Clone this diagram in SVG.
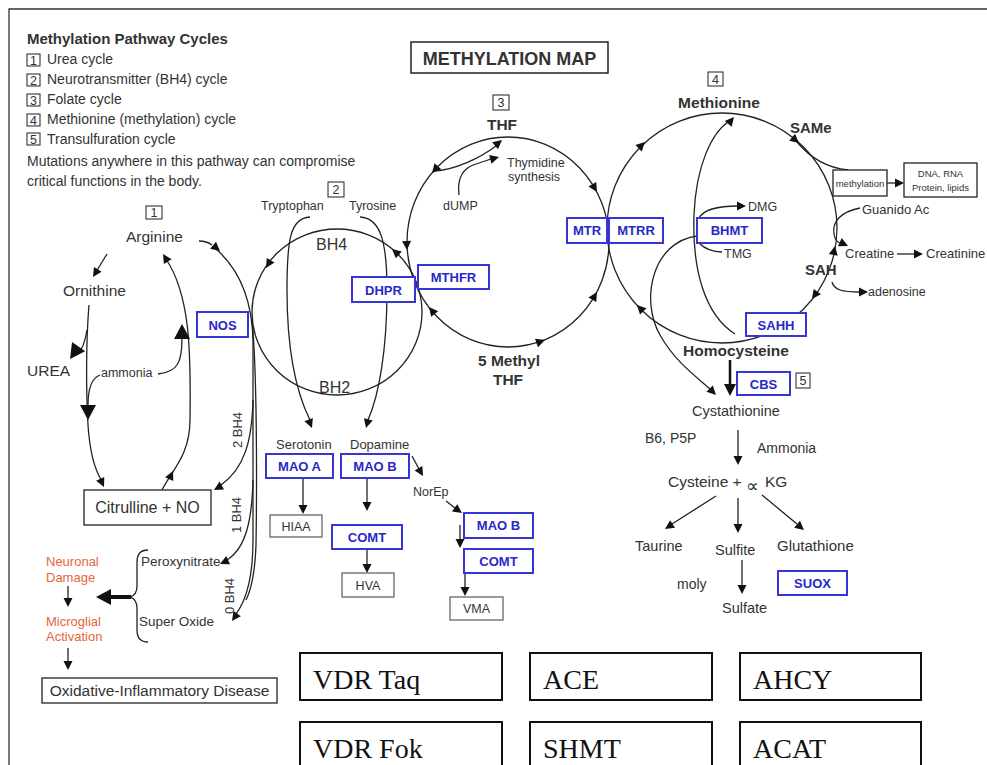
<svg xmlns="http://www.w3.org/2000/svg" width="987" height="765" viewBox="0 0 987 765">
<defs>
<style>
.t{font-family:"Liberation Sans",Arial,sans-serif;fill:#333}
.b{font-weight:bold}
.m{text-anchor:middle}
.ln{fill:none;stroke:#222;stroke-width:1.3}
.bx{fill:#fff;stroke:#222;stroke-width:1.3}
.gb{fill:#fff;stroke:#666;stroke-width:1.3}
.eb{fill:#fff;stroke:#3636d6;stroke-width:2}
.et{font-family:"Liberation Sans",Arial,sans-serif;font-weight:bold;font-size:13px;fill:#2828c8;text-anchor:middle}
.nb{fill:#fff;stroke:#333;stroke-width:1.1}
.nt{font-family:"Liberation Sans",Arial,sans-serif;font-size:12.5px;fill:#333;text-anchor:middle}
.or{font-family:"Liberation Sans",Arial,sans-serif;font-size:13px;fill:#e8643c}
.sb{fill:#fff;stroke:#111;stroke-width:2}
.st{font-family:"Liberation Serif","Times New Roman",serif;font-size:28px;fill:#111}
.ah{fill:#111}
</style>
<path id="a" d="M0,0 L-9,-4.5 L-9,4.5 Z"/>
<path id="A" d="M0,0 L-15,-8 L-15,8 Z"/>
</defs>
<rect width="987" height="765" fill="#fff"/>
<path d="M9,765 L9,9 L987,9" fill="none" stroke="#333" stroke-width="1.3"/>

<g id="legend">
<text class="t b" x="27" y="44" font-size="15">Methylation Pathway Cycles</text>
<rect class="nb" x="27" y="54" width="13" height="12"/><text class="nt" x="33.5" y="64.5">1</text>
<text class="t" x="47" y="64" font-size="14">Urea cycle</text>
<rect class="nb" x="27" y="74" width="13" height="12"/><text class="nt" x="33.5" y="84.5">2</text>
<text class="t" x="47" y="84" font-size="14">Neurotransmitter (BH4) cycle</text>
<rect class="nb" x="27" y="94" width="13" height="12"/><text class="nt" x="33.5" y="104.5">3</text>
<text class="t" x="47" y="104" font-size="14">Folate cycle</text>
<rect class="nb" x="27" y="114" width="13" height="12"/><text class="nt" x="33.5" y="124.5">4</text>
<text class="t" x="47" y="124" font-size="14">Methionine (methylation) cycle</text>
<rect class="nb" x="27" y="133" width="13" height="12"/><text class="nt" x="33.5" y="143.5">5</text>
<text class="t" x="47" y="144" font-size="14">Transulfuration cycle</text>
<text class="t" x="27" y="166" font-size="14">Mutations anywhere in this pathway can compromise</text>
<text class="t" x="27" y="186" font-size="14">critical functions in the body.</text>
</g>

<g id="title">
<rect x="411" y="42" width="197" height="31" fill="#fff" stroke="#222" stroke-width="1.5"/>
<text class="t b m" x="509.5" y="65" font-size="18" fill="#222">METHYLATION MAP</text>
</g>

<g id="connectors">
<ellipse class="ln" cx="337" cy="312" rx="85" ry="83"/>
<ellipse class="ln" cx="508" cy="242" rx="101" ry="105"/>
<circle class="ln" cx="722" cy="228" r="115"/>
<path class="ln" d="M107,254 L96,272"/>
<path class="ln" d="M89,305 C86,340 86,390 88,425 C90,455 96,472 102,481"/>
<path class="ln" d="M87,330 C85,342 82,350 78,354"/>
<path class="ln" d="M182,338 C182,362 178,372 158,374"/>
<path class="ln" d="M100,375 C92,378 88,388 88,405"/>
<path class="ln" d="M162,490 C172,470 190,455 190,420 C191,350 190,295 166,259"/>
<path class="ln" d="M199,241 C204,241 208,242 212,245"/>
<path class="ln" d="M216,249 C240,270 252,300 253,340 L253,540 C253,575 248,598 236,614"/>
<path class="ln" d="M252,320 C257,370 257,480 256,545 C255,572 251,590 246,600"/>
<path class="ln" d="M253,400 C252,440 245,468 221,485"/>
<path class="ln" d="M253,480 C252,520 246,548 227,560"/>
<path class="ln" d="M310,217 C290,218 287,240 287,290 C287,350 295,390 310,420"/>
<path class="ln" d="M360,217 C380,218 387,240 387,290 C387,350 379,395 368,420"/>
<path class="ln" d="M303,478 L303,506"/>
<path class="ln" d="M367,478 L367,503"/>
<path class="ln" d="M367,549 L367,565"/>
<path class="ln" d="M412,456 L419,469"/>
<path class="ln" d="M446,501 L455,508"/>
<path class="ln" d="M460,525 L460,540"/>
<path class="ln" d="M465,573 L465,588"/>
<path class="ln" d="M434,171 C455,170 480,158 496,146"/>
<path class="ln" d="M459,195 C457,178 462,168 476,164 L491,159"/>
<path class="ln" d="M797,142 C812,160 828,168 848,170"/>
<path class="ln" d="M887,183 L896,183"/>
<path class="ln" d="M860,208 C840,212 832,222 834,234 C835,240 837,242 840,243"/>
<path class="ln" d="M897,254 L915,254"/>
<path class="ln" d="M832,282 C834,290 842,292 860,292"/>
<path class="ln" d="M735,334 C705,315 692,270 694,215 C696,165 712,133 728,122"/>
<path class="ln" d="M697,236 C652,242 640,300 660,335 C675,362 698,378 710,389"/>
<path class="ln" d="M699,218 C704,209 718,206 738,206"/>
<path class="ln" d="M699,243 C706,250 713,252 722,252"/>
<path d="M730,360 L730,386" fill="none" stroke="#111" stroke-width="2.5"/>
<path class="ln" d="M738,430 L738,456"/>
<path class="ln" d="M716,496 L672,524"/>
<path class="ln" d="M738,498 L738,524"/>
<path class="ln" d="M762,495 L797,524"/>
<path class="ln" d="M742,560 L742,585"/>
<path class="ln" d="M148,550 Q137,550 137,562 L137,586 Q137,595 130,597 Q137,599 137,608 L137,630 Q137,642 148,642"/>
<path d="M131,597 L110,597" stroke="#111" stroke-width="4"/>
<path class="ln" d="M68,586 L68,599"/>
<path class="ln" d="M68,648 L68,662"/>

<use class="ah" href="#a" transform="translate(93,277) rotate(122)"/>
<use class="ah" href="#a" transform="translate(104,487) rotate(65)"/>
<use class="ah" href="#A" transform="translate(70,359) rotate(125)"/>
<use class="ah" href="#A" transform="translate(88,420) rotate(90)"/>
<use class="ah" href="#A" transform="translate(182,324) rotate(-90)"/>
<use class="ah" href="#a" transform="translate(163,254) rotate(-122)"/>
<use class="ah" href="#a" transform="translate(173,471) rotate(-65)"/>
<use class="ah" href="#a" transform="translate(220,251) rotate(40)"/>
<use class="ah" href="#a" transform="translate(214,490) rotate(150)"/>
<use class="ah" href="#a" transform="translate(220,564) rotate(155)"/>
<use class="ah" href="#a" transform="translate(232,621) rotate(125)"/>
<use class="ah" href="#a" transform="translate(266,268) rotate(121)"/>
<use class="ah" href="#a" transform="translate(392,249) rotate(-139)"/>
<use class="ah" href="#a" transform="translate(312,428) rotate(68)"/>
<use class="ah" href="#a" transform="translate(366,428) rotate(105)"/>
<use class="ah" href="#a" transform="translate(303,514) rotate(90)"/>
<use class="ah" href="#a" transform="translate(367,511) rotate(90)"/>
<use class="ah" href="#a" transform="translate(367,573) rotate(90)"/>
<use class="ah" href="#a" transform="translate(423,476) rotate(60)"/>
<use class="ah" href="#a" transform="translate(462,513) rotate(35)"/>
<use class="ah" href="#a" transform="translate(460,548) rotate(90)"/>
<use class="ah" href="#a" transform="translate(465,596) rotate(90)"/>
<use class="ah" href="#a" transform="translate(432,173) rotate(131)"/>
<use class="ah" href="#a" transform="translate(407,250) rotate(87)"/>
<use class="ah" href="#a" transform="translate(429,307) rotate(231)"/>
<use class="ah" href="#a" transform="translate(545,340) rotate(-19)"/>
<use class="ah" href="#a" transform="translate(597,292) rotate(-59)"/>
<use class="ah" href="#a" transform="translate(597,192) rotate(59)"/>
<use class="ah" href="#a" transform="translate(502,140) rotate(-40)"/>
<use class="ah" href="#a" transform="translate(499,157) rotate(-15)"/>
<use class="ah" href="#a" transform="translate(645,142) rotate(-44)"/>
<use class="ah" href="#a" transform="translate(799,143) rotate(40)"/>
<use class="ah" href="#a" transform="translate(835,246) rotate(-79)"/>
<use class="ah" href="#a" transform="translate(812,299) rotate(126)"/>
<use class="ah" href="#a" transform="translate(637,305) rotate(226)"/>
<use class="ah" href="#a" transform="translate(904,183) rotate(0)"/>
<use class="ah" href="#a" transform="translate(848,246) rotate(25)"/>
<use class="ah" href="#a" transform="translate(923,254) rotate(0)"/>
<use class="ah" href="#a" transform="translate(868,292) rotate(0)"/>
<use class="ah" href="#a" transform="translate(734,117) rotate(-50)"/>
<use class="ah" href="#a" transform="translate(716,395) rotate(45)"/>
<use class="ah" href="#a" transform="translate(746,206) rotate(0)"/>
<path class="ah" d="M730,396 L724,384 L736,384 Z"/>
<use class="ah" href="#a" transform="translate(738,465) rotate(90)"/>
<use class="ah" href="#a" transform="translate(665,529) rotate(147)"/>
<use class="ah" href="#a" transform="translate(738,533) rotate(90)"/>
<use class="ah" href="#a" transform="translate(804,530) rotate(40)"/>
<use class="ah" href="#a" transform="translate(742,594) rotate(90)"/>
<use class="ah" href="#A" transform="translate(96,597) rotate(180)"/>
<use class="ah" href="#a" transform="translate(68,607) rotate(90)"/>
<use class="ah" href="#a" transform="translate(68,670) rotate(90)"/>
</g>

<g id="urea-cycle">
<rect class="nb" x="146" y="206" width="16" height="13"/><text class="nt" x="154" y="217">1</text>
<text class="t" x="126" y="242" font-size="15.5">Arginine</text>
<text class="t" x="63" y="296" font-size="15.5">Ornithine</text>
<text class="t" x="27" y="376" font-size="15.5">UREA</text>
<text class="t" x="101" y="377" font-size="12.5">ammonia</text>
<g id="citrulline"><rect class="bx" x="84" y="490" width="127" height="35"/><text class="t m" x="147.5" y="513" font-size="16">Citrulline + NO</text></g>
<g id="nos"><rect class="eb" x="197" y="312" width="51" height="25"/><text class="et" x="222.5" y="329.5">NOS</text></g>
<text class="t m" transform="translate(242,430) rotate(-90)" font-size="13">2 BH4</text>
<text class="t m" transform="translate(241,515) rotate(-90)" font-size="13">1 BH4</text>
<text class="t m" transform="translate(234,596) rotate(-90)" font-size="13">0 BH4</text>
</g>

<g id="damage">
<text class="t" x="141" y="566" font-size="13.5">Peroxynitrate</text>
<text class="t" x="139" y="626" font-size="13.5">Super Oxide</text>
<text class="or" x="46" y="566">Neuronal</text>
<text class="or" x="46" y="582">Damage</text>
<text class="or" x="46" y="626">Microglial</text>
<text class="or" x="46" y="641">Activation</text>
<g id="oxidative"><rect class="bx" x="42" y="678" width="235" height="25"/><text class="t m" x="159.5" y="696" font-size="15.5">Oxidative-Inflammatory Disease</text></g>
</g>

<g id="bh4-cycle">
<rect class="nb" x="328" y="182" width="16" height="15"/><text class="nt" x="336" y="194">2</text>
<text class="t" x="261" y="210" font-size="12.5">Tryptophan</text>
<text class="t" x="349" y="210" font-size="12.5">Tyrosine</text>
<text class="t" x="316" y="250" font-size="16">BH4</text>
<text class="t" x="319" y="393" font-size="16">BH2</text>
<g id="dhpr"><rect class="eb" x="352" y="277" width="63" height="25"/><text class="et" x="383.5" y="294.5">DHPR</text></g>
<g id="mthfr"><rect class="eb" x="418" y="265" width="71" height="24"/><text class="et" x="453.5" y="282">MTHFR</text></g>
<text class="t" x="276" y="449" font-size="13">Serotonin</text>
<text class="t" x="350" y="449" font-size="13">Dopamine</text>
<g id="maoa"><rect class="eb" x="266" y="454" width="67" height="24"/><text class="et" x="299.5" y="471">MAO A</text></g>
<g id="maob1"><rect class="eb" x="341" y="454" width="68" height="24"/><text class="et" x="375" y="471">MAO B</text></g>
<g id="hiaa"><rect class="gb" x="270" y="515" width="52" height="22"/><text class="t m" x="296" y="531" font-size="12.5">HIAA</text></g>
<g id="comt1"><rect class="eb" x="332" y="525" width="70" height="24"/><text class="et" x="367" y="542">COMT</text></g>
<g id="hva"><rect class="gb" x="342" y="573" width="52" height="24"/><text class="t m" x="368" y="590" font-size="12.5">HVA</text></g>
<text class="t" x="413" y="496" font-size="12.5">NorEp</text>
<g id="maob2"><rect class="eb" x="464" y="513" width="69" height="25"/><text class="et" x="498.5" y="530">MAO B</text></g>
<g id="comt2"><rect class="eb" x="464" y="549" width="69" height="24"/><text class="et" x="498.5" y="566">COMT</text></g>
<g id="vma"><rect class="gb" x="450" y="597" width="53" height="23"/><text class="t m" x="476.5" y="613" font-size="12.5">VMA</text></g>
</g>

<g id="folate-cycle">
<rect class="nb" x="493" y="95" width="16" height="15"/><text class="nt" x="501" y="107">3</text>
<text class="t b m" x="502" y="130" font-size="15.5">THF</text>
<text class="t" x="507" y="167" font-size="12.5">Thymidine</text>
<text class="t" x="508" y="181" font-size="12.5">synthesis</text>
<text class="t" x="443" y="210" font-size="12.5">dUMP</text>
<text class="t b m" x="509" y="366" font-size="15.5">5 Methyl</text>
<text class="t b m" x="508" y="385" font-size="15.5">THF</text>
<g id="mtr"><rect class="eb" x="567" y="218" width="40" height="25"/><text class="et" x="587" y="235">MTR</text></g>
<g id="mtrr"><rect class="eb" x="609" y="218" width="54" height="25"/><text class="et" x="636" y="235">MTRR</text></g>
</g>

<g id="methionine-cycle">
<rect class="nb" x="708" y="72" width="15" height="14"/><text class="nt" x="715.5" y="84">4</text>
<text class="t b m" x="719" y="108" font-size="15.5">Methionine</text>
<text class="t b" x="790" y="133" font-size="15">SAMe</text>
<g id="methylation"><rect class="bx" x="833" y="170" width="54" height="26"/><text class="t m" x="860" y="187" font-size="9.5">methylation</text></g>
<g id="dna"><rect class="bx" x="904" y="163" width="73" height="34"/><text class="t m" x="940.5" y="177" font-size="9.5">DNA, RNA</text><text class="t m" x="940.5" y="191" font-size="9.5">Protein, lipids</text></g>
<text class="t" x="862" y="214" font-size="13">Guanido Ac</text>
<text class="t" x="845" y="258" font-size="13">Creatine</text>
<text class="t" x="926" y="258" font-size="13">Creatinine</text>
<text class="t b" x="805" y="275" font-size="15">SAH</text>
<text class="t" x="868" y="296" font-size="12.5">adenosine</text>
<text class="t" x="748" y="211" font-size="12.5">DMG</text>
<text class="t" x="724" y="258" font-size="12.5">TMG</text>
<g id="bhmt"><rect class="eb" x="697" y="218" width="65" height="25"/><text class="et" x="729.5" y="235">BHMT</text></g>
<g id="sahh"><rect class="eb" x="746" y="313" width="60" height="23"/><text class="et" x="776" y="330">SAHH</text></g>
<text class="t b" x="683" y="356" font-size="15.5">Homocysteine</text>
</g>

<g id="transsulfuration">
<g id="cbs"><rect class="eb" x="737" y="372" width="53" height="23"/><text class="et" x="763.5" y="389">CBS</text></g>
<rect class="nb" x="796" y="373" width="14" height="15"/><text class="nt" x="803" y="385">5</text>
<text class="t" x="692" y="416" font-size="14.5">Cystathionine</text>
<text class="t" x="645" y="443" font-size="14">B6, P5P</text>
<text class="t" x="757" y="453" font-size="14">Ammonia</text>
<text class="t" x="668" y="487" font-size="15.5">Cysteine +</text>
<text class="t" x="746" y="492" font-size="18" font-family="DejaVu Sans, sans-serif">∝</text>
<text class="t" x="765" y="487" font-size="15.5">KG</text>
<text class="t" x="635" y="551" font-size="14.5">Taurine</text>
<text class="t" x="715" y="555" font-size="14.5">Sulfite</text>
<text class="t" x="777" y="551" font-size="15">Glutathione</text>
<text class="t" x="677" y="589" font-size="14">moly</text>
<text class="t" x="722" y="613" font-size="14.5">Sulfate</text>
<g id="suox"><rect class="eb" x="778" y="571" width="69" height="24"/><text class="et" x="812.5" y="588">SUOX</text></g>
</g>

<g id="genes">
<g id="vdr-taq"><rect class="sb" x="300" y="653" width="202" height="47"/><text class="st" x="313" y="689">VDR Taq</text></g>
<g id="ace"><rect class="sb" x="530" y="653" width="182" height="47"/><text class="st" x="543" y="689">ACE</text></g>
<g id="ahcy"><rect class="sb" x="740" y="653" width="181" height="47"/><text class="st" x="753" y="689">AHCY</text></g>
<g id="vdr-fok"><rect class="sb" x="300" y="722" width="202" height="60"/><text class="st" x="313" y="758">VDR Fok</text></g>
<g id="shmt"><rect class="sb" x="530" y="722" width="182" height="60"/><text class="st" x="543" y="758">SHMT</text></g>
<g id="acat"><rect class="sb" x="740" y="722" width="181" height="60"/><text class="st" x="753" y="758">ACAT</text></g>
</g>
</svg>
